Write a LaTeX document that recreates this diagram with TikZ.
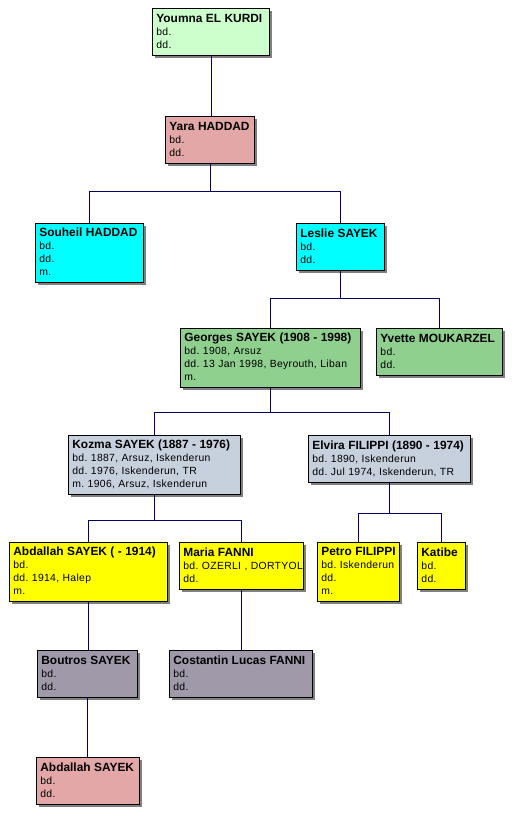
\documentclass[tikz,border=0pt]{standalone}
\usepackage{fontspec}
\setmainfont{Liberation Sans}
\newfontfamily\detfont[LetterSpace=3]{Liberation Sans}
\usetikzlibrary{shadows}
\frenchspacing
\definecolor{paleGreen}{HTML}{CCFFCC}
\definecolor{rosePink}{HTML}{E3A7A7}
\definecolor{aquaBlue}{HTML}{00FFFF}
\definecolor{leafGreen}{HTML}{8FD08F}
\definecolor{slateGrey}{HTML}{C7D0DD}
\definecolor{lemon}{HTML}{FFFF00}
\definecolor{mauveGrey}{HTML}{A099AA}
\definecolor{lineBlue}{HTML}{000066}
\newcommand{\entry}[2]{\begin{tabular}{@{}l@{}}\rule{0pt}{11pt}{\fontspec{Liberation Sans}\fontsize{11.9}{13}\selectfont\bfseries #1}\\#2\end{tabular}}

\begin{document}
\begin{tikzpicture}[x=1pt,y=-1pt,
    person/.style 2 args={draw=black,line width=0.8pt,anchor=north west,align=left,
      inner xsep=4pt,inner ysep=0pt,text width=#1,minimum height=#2,
      font=\detfont\fontsize{10.4}{13}\selectfont,
      drop shadow={shadow xshift=3pt,shadow yshift=-3pt,fill=black!50,opacity=1}},
    link/.style={draw=lineBlue,line width=0.8pt}]
  \useasboundingbox (0,0) rectangle (519,816);
  % boxes, row by row
  \node[person={109pt}{47pt},fill=paleGreen] (youmna) at (152,8) {\entry{Youmna EL KURDI}{bd.\\dd.}};
  \node[person={81pt}{47pt},fill=rosePink] (yara) at (165,116) {\entry{Yara HADDAD}{bd.\\dd.}};
  \node[person={100pt}{59pt},fill=aquaBlue] (souheil) at (35,223) {\entry{Souheil HADDAD}{bd.\\dd.\\m.}};
  \node[person={80pt}{47pt},fill=aquaBlue] (leslie) at (296,223) {\entry{Leslie SAYEK}{bd.\\dd.}};
  \node[person={172pt}{59pt},fill=leafGreen] (georges) at (180,328) {\entry{Georges SAYEK (1908 - 1998)}{bd. 1908, Arsuz\\dd. 13 Jan 1998, Beyrouth, Liban\\m.}};
  \node[person={118pt}{47pt},fill=leafGreen] (yvette) at (376,328) {\entry{Yvette MOUKARZEL}{bd.\\dd.}};
  \node[person={164pt}{59pt},fill=slateGrey] (kozma) at (68,435) {\entry{Kozma SAYEK (1887 - 1976)}{bd. 1887, Arsuz, Iskenderun\\dd. 1976, Iskenderun, TR\\m. 1906, Arsuz, Iskenderun}};
  \node[person={154pt}{47pt},fill=slateGrey] (elvira) at (308,435) {\entry{Elvira FILIPPI (1890 - 1974)}{bd. 1890, Iskenderun\\dd. Jul 1974, Iskenderun, TR}};
  \node[person={150pt}{59pt},fill=lemon] (abdallah) at (9,542) {\entry{Abdallah SAYEK ( - 1914)}{bd.\\dd. 1914, Halep\\m.}};
  \node[person={116pt}{47pt},fill=lemon] (maria) at (179,542) {\entry{Maria FANNI}{bd. OZERLI , DORTYOL\\dd.}};
  \node[person={74pt}{59pt},fill=lemon] (petro) at (317,542) {\entry{Petro FILIPPI}{bd. Iskenderun\\dd.\\m.}};
  \node[person={40pt}{47pt},fill=lemon] (katibe) at (417,542) {\entry{Katibe}{bd.\\dd.}};
  \node[person={92pt}{47pt},fill=mauveGrey] (boutros) at (37,650) {\entry{Boutros SAYEK}{bd.\\dd.}};
  \node[person={135pt}{47pt},fill=mauveGrey] (costantin) at (169,650) {\entry{Costantin Lucas FANNI}{bd.\\dd.}};
  \node[person={95pt}{47pt},fill=rosePink] (abdallahjr) at (36,757) {\entry{Abdallah SAYEK}{bd.\\dd.}};
  % connectors
  \draw[link] (youmna.south) -- (youmna.south |- yara.north);
  \draw[link] (yara.south) -- ++(0,-28pt) -| (souheil.north);
  \draw[link] (yara.south) -- ++(0,-28pt) -| (leslie.north);
  \draw[link] (leslie.south) -- ++(0,-28pt) -| (georges.north);
  \draw[link] (leslie.south) -- ++(0,-28pt) -| (yvette.north);
  \draw[link] (georges.south) -- ++(0,-25pt) -| (kozma.north);
  \draw[link] (georges.south) -- ++(0,-25pt) -| (elvira.north);
  \draw[link] (kozma.south) -- ++(0,-26pt) -| (abdallah.north);
  \draw[link] (kozma.south) -- ++(0,-26pt) -| (maria.north);
  \draw[link] (elvira.south) -- ++(0,-31pt) -| (petro.north);
  \draw[link] (elvira.south) -- ++(0,-31pt) -| (katibe.north);
  \draw[link] (abdallah.south) -- (abdallah.south |- boutros.north);
  \draw[link] (maria.south) -- (maria.south |- costantin.north);
  \draw[link] (boutros.south) -- (boutros.south |- abdallahjr.north);
\end{tikzpicture}
\end{document}
